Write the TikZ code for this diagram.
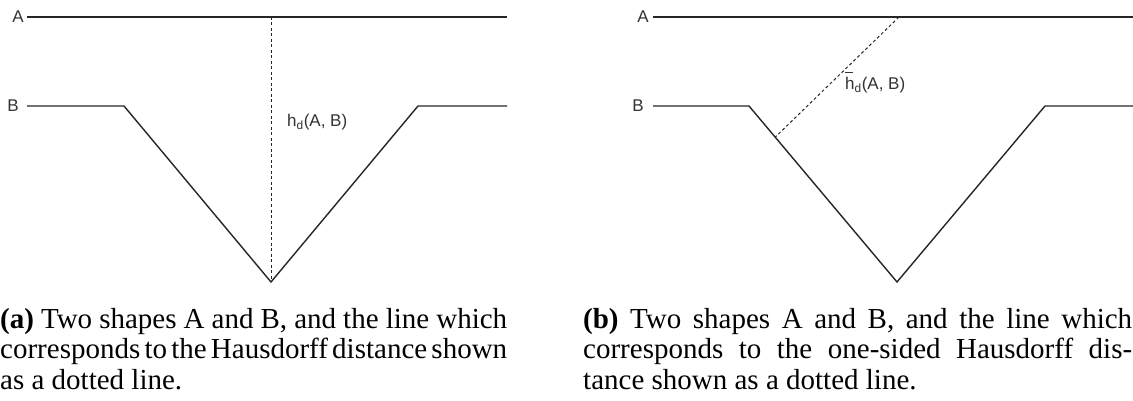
\documentclass[tikz,border=0pt]{standalone}
\usepackage{fontspec}
\usetikzlibrary{calc}
\setmainfont{Liberation Serif}
\newfontfamily\lblfont{Liberation Sans}
\begin{document}
\begin{tikzpicture}[x=1pt,y=-1pt,
  shapeline/.style={line width=1.4pt, draw=black!85, line join=miter},
  hdline/.style={line width=1pt, draw=black!85, dash pattern=on 3pt off 2.5pt},
  lbl/.style={font=\lblfont\fontsize{17}{20}\selectfont, text=black!80, inner sep=0pt},
  captext/.style={anchor=base west, inner sep=0pt,
    font={\fontsize{29}{36}\selectfont\spaceskip=.25em plus .3em minus .2em\relax}}]
\useasboundingbox (0,0) rectangle (1133,401);
% ---------- left panel ----------
\coordinate (la1) at (27,17);
\coordinate (la2) at (507,17);
\coordinate (lb1) at (27,106);
\coordinate (lb2) at (124,106);
\coordinate (lb3) at (271,282);
\coordinate (lb4) at (418,106);
\coordinate (lb5) at (507,106);
\coordinate (lh1) at (271,17);
\draw[shapeline] (la1) -- (la2);
\draw[shapeline] (lb1) -- (lb2) -- (lb3) -- (lb4) -- (lb5);
\draw[hdline] (lh1) -- (lb3);
\node[lbl, anchor=east] (lA) at (24,17) {A};
\node[lbl, anchor=east] (lB) at (19,106) {B};
\node[lbl, anchor=base west] (lH) at (287,127) {h\textsubscript{d}(A, B)};
% ---------- right panel ----------
\coordinate (ra1) at (653,17);
\coordinate (ra2) at (1133,17);
\coordinate (rb1) at (653,106);
\coordinate (rb2) at (749,106);
\coordinate (rb3) at (897,282);
\coordinate (rb4) at (1045,106);
\coordinate (rb5) at (1133,106);
\coordinate (rh1) at (899,17);
\coordinate (rh2) at ($(rb2)!0.177!(rb3)$);
\draw[shapeline] (ra1) -- (ra2);
\draw[shapeline] (rb1) -- (rb2) -- (rb3) -- (rb4) -- (rb5);
\draw[hdline] (rh1) -- (rh2);
\node[lbl, anchor=east] (rA) at (649,17) {A};
\node[lbl, anchor=east] (rB) at (644,106) {B};
\node[lbl, anchor=base west] (rH) at (845,90) {\rlap{\raisebox{0.98em}{\rule{0.47em}{0.07em}}}h\textsubscript{d}(A, B)};
% ---------- captions ----------
\node[captext] (ca1) at (0,328) {\hbox to 507pt{\textbf{(a)} Two shapes A and B, and the line which}};
\node[captext] (ca2) at (0,358.5) {\hbox to 507pt{corresponds to the Hausdorff distance shown}};
\node[captext] (ca3) at (0,389) {as a dotted line.};
\node[captext] (cb1) at (583,328) {\hbox to 549pt{\textbf{(b)} Two shapes A and B, and the line which}};
\node[captext] (cb2) at (583,358.5) {\hbox to 549pt{corresponds to the one-sided Hausdorff dis-}};
\node[captext] (cb3) at (583,389) {tance shown as a dotted line.};
\end{tikzpicture}
\end{document}
